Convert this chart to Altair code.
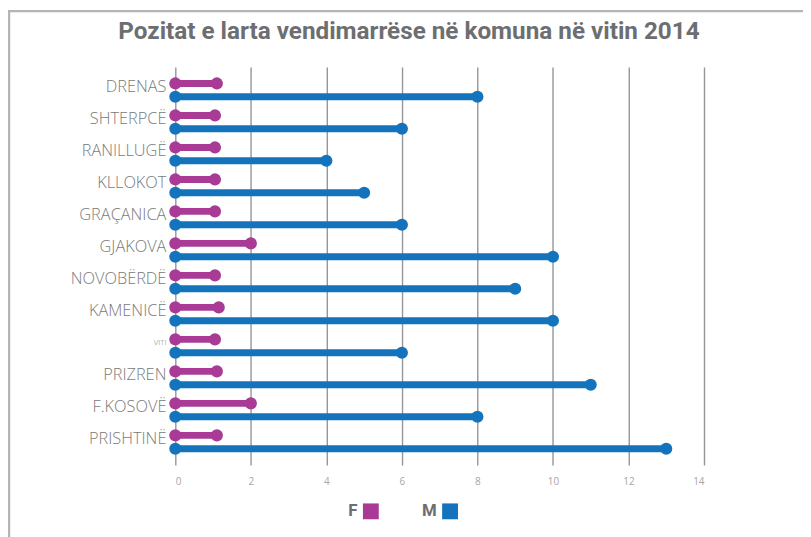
import altair as alt
import pandas as pd

municipalities = ["DRENAS", "SHTERPCË", "RANILLUGË", "KLLOKOT", "GRAÇANICA", "GJAKOVA",
                  "NOVOBËRDË", "KAMENICË", "VITI", "PRIZREN", "F.KOSOVË", "PRISHTINË"]
female = [1.1, 1.05, 1.05, 1.05, 1.05, 2.0, 1.05, 1.15, 1.05, 1.1, 2.0, 1.1]
male = [8, 6, 4, 5, 6, 10, 9, 10, 6, 11, 8, 13]
series = ["F", "M"]
colors = ["#A93B96", "#1374BD"]
x_ticks = [0, 2, 4, 6, 8, 10, 12, 14]

rows = []
for m, f, mm in zip(municipalities, female, male):
    rows.append({"komuna": m, "gjinia": "F", "vlera": f})
    rows.append({"komuna": m, "gjinia": "M", "vlera": mm})
df = pd.DataFrame(rows)

W, H = 534, 402
PAD = {"left": 169, "top": 57, "right": 100, "bottom": 70}

y_enc = alt.Y("komuna:N", sort=municipalities,
              scale=alt.Scale(paddingInner=0, paddingOuter=0.22),
              axis=alt.Axis(title=None, domain=False, ticks=False, labelPadding=9.5,
                            labelFont="Open Sans", labelFontWeight=300,
                            labelFontSize=alt.expr("datum.value == 'VITI' ? 8 : 16.5"),
                            labelColor="#7a7a7a", labelOffset=-3, grid=False))
yoff = alt.YOffset("gjinia:N", sort=series,
                   scale=alt.Scale(type="point", padding=0.7))
color = alt.Color("gjinia:N", sort=series,
                  scale=alt.Scale(domain=series, range=colors),
                  legend=alt.Legend(title=None, orient="none", direction="horizontal",
                                    legendX=189, legendY=440,
                                    symbolType="square", symbolSize=256,
                                    symbolStrokeWidth=0, symbolOpacity=1,
                                    labelAlign="right", labelOffset=alt.expr("-22"),
                                    labelFont="Roboto",
                                    labelFontWeight="bold", labelFontSize=17,
                                    labelColor="#6d6e71", columnPadding=43))
x_scale = alt.Scale(domain=[0, 14], nice=False)
x_axis = alt.Axis(title=None, values=x_ticks, domain=False, ticks=False, labelPadding=12,
                  labelFontSize=10, labelColor="#a6a6a6", labelFont="Open Sans",
                  grid=True, gridColor="#959595", gridWidth=1.4)

base = alt.Chart(df)
lines = base.mark_rule(strokeWidth=7).encode(
    y=y_enc, yOffset=yoff,
    x=alt.X("zero:Q", scale=x_scale, axis=x_axis),
    x2="vlera:Q", color=color,
).transform_calculate(zero="0")
dots_end = base.mark_circle(size=150, opacity=1).encode(
    y=y_enc, yOffset=yoff, x=alt.X("vlera:Q", scale=x_scale, axis=x_axis), color=color)
dots_start = base.mark_circle(size=150, opacity=1).encode(
    y=y_enc, yOffset=yoff, x=alt.X("zero:Q", scale=x_scale, axis=x_axis), color=color
).transform_calculate(zero="0")

frame_data = alt.Data(values=[{"k": 1}])
frame_left = alt.Chart(frame_data).mark_rule(color="#b5b5b5", strokeWidth=2.5).encode(
    x=alt.value(-168), y=alt.value(-57), y2=alt.value(H + 80))
frame_top = alt.Chart(frame_data).mark_rule(color="#b5b5b5", strokeWidth=2.5).encode(
    x=alt.value(-169), x2=alt.value(W + 110), y=alt.value(-56.5))

chart = alt.layer(frame_left, frame_top, lines, dots_start, dots_end).properties(
    width=W, height=H,
    padding=PAD,
    autosize=alt.AutoSizeParams(type="none"),
    title=alt.TitleParams("Pozitat e larta vendimarrëse në komuna në vitin 2014",
                          font="Roboto", fontSize=24.5,
                          fontWeight="bold", color="#6d6e71", anchor="middle",
                          dx=-31, dy=52, offset=17),
).configure_view(stroke=None)

chart.save("out.html", embed_options={"renderer": "svg", "actions": False})
